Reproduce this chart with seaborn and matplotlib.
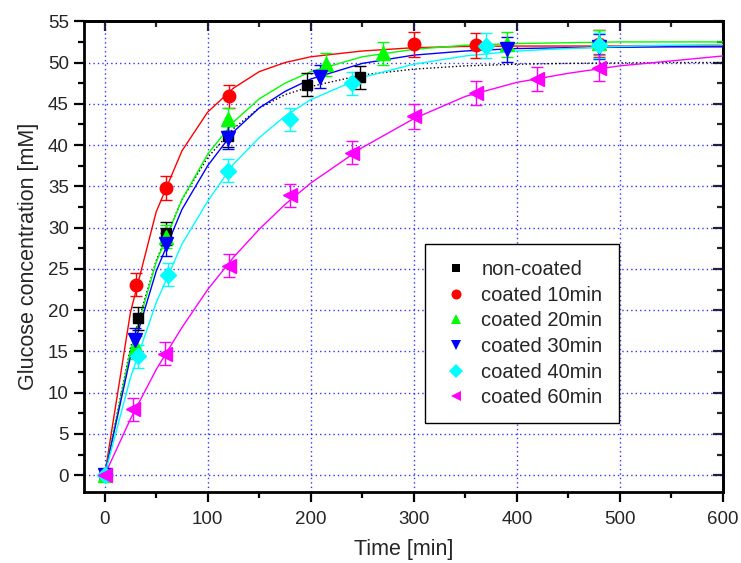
import matplotlib
matplotlib.use("Agg")
import matplotlib.pyplot as plt
from matplotlib.lines import Line2D
from matplotlib.ticker import MultipleLocator
import pandas as pd
import seaborn as sns

# ---- series definitions ----
labels = ["non-coated", "coated 10min", "coated 20min",
          "coated 30min", "coated 40min", "coated 60min"]
colors = ["#000000", "#ff0000", "#00ff00", "#0000ff", "#00ffff", "#ff00ff"]
markers = ["s", "o", "^", "v", "D", "<"]
marker_sizes = [7.5, 9, 9.5, 9.5, 8.5, 9.5]

# ---- measured glucose release (time [min], concentration [mM], error) ----
t_non = [0, 32, 60, 120, 196, 248]
c_non = [0, 19.0, 29.3, 41.1, 47.3, 48.2]
e_non = [0.3, 1.4, 1.4, 1.3, 1.4, 1.4]

t_10 = [0, 30, 60, 121, 300, 360, 480]
c_10 = [0, 23.1, 34.8, 45.9, 52.2, 52.1, 52.3]
e_10 = [0.3, 1.4, 1.4, 1.4, 1.5, 1.5, 1.6]

t_20 = [0, 30, 60, 120, 215, 270, 390, 480]
c_20 = [0, 15.5, 28.9, 43.1, 49.8, 51.1, 52.2, 52.4]
e_20 = [0.3, 1.4, 1.4, 1.4, 1.4, 1.4, 1.5, 1.5]

t_30 = [0, 29, 60, 120, 209, 390, 480]
c_30 = [0, 16.4, 28.0, 40.9, 48.3, 51.6, 51.9]
e_30 = [0.3, 1.4, 1.4, 1.4, 1.4, 1.5, 1.5]

t_40 = [0, 32, 61, 120, 180, 240, 370, 480]
c_40 = [0, 14.4, 24.3, 36.9, 43.1, 47.5, 52.05, 52.1]
e_40 = [0.3, 1.4, 1.4, 1.4, 1.4, 1.4, 1.5, 1.5]

t_60 = [0, 28, 59, 121, 180, 240, 300, 360, 420, 480]
c_60 = [0, 8.0, 14.7, 25.4, 33.9, 39.1, 43.5, 46.3, 48.0, 49.4]
e_60 = [0.3, 1.4, 1.4, 1.4, 1.4, 1.4, 1.5, 1.5, 1.5, 1.6]

# ---- fitted release curves ----
fit_t = [0, 25, 50, 75, 100, 125, 150, 175, 200, 250, 300, 350, 400,
         450, 500, 550, 600]
fit_non = [0, 15.4, 26.0, 33.4, 38.5, 42.0, 44.5, 46.1, 47.1, 48.5, 49.2,
           49.6, 49.8, 49.9, 49.95, 50.0, 50.0]
fit_10 = [0, 19.7, 31.9, 39.3, 44.0, 46.9, 48.9, 50.0, 50.7, 51.4, 51.8,
          51.95, 52.0, 52.0, 52.0, 52.0, 52.0]
fit_20 = [0, 15.0, 25.8, 33.4, 38.9, 42.8, 45.6, 47.5, 48.9, 50.7, 51.6,
          52.1, 52.3, 52.4, 52.5, 52.5, 52.5]
fit_30 = [0, 14.3, 24.7, 32.2, 37.5, 41.6, 44.5, 46.5, 48.0, 49.9, 50.9,
          51.4, 51.7, 51.8, 51.85, 51.9, 51.9]
fit_40 = [0, 11.8, 20.9, 28.0, 33.2, 37.7, 40.9, 43.5, 45.5, 48.2, 49.8,
          50.8, 51.4, 51.7, 51.95, 52.1, 52.2]
fit_60 = [0, 6.8, 12.8, 17.9, 22.5, 26.4, 29.8, 32.8, 35.4, 39.7, 43.2,
          45.9, 47.6, 48.7, 49.6, 50.2, 50.8]

points = [(t_non, c_non, e_non), (t_10, c_10, e_10), (t_20, c_20, e_20),
          (t_30, c_30, e_30), (t_40, c_40, e_40), (t_60, c_60, e_60)]
fits = [fit_non, fit_10, fit_20, fit_30, fit_40, fit_60]
fit_styles = [":", "-", "-", "-", "-", "-"]

sns.set_style("white")
plt.rcParams["font.family"] = ["Liberation Sans", "DejaVu Sans"]

fig = plt.figure(figsize=(7.41, 5.63), dpi=100)
ax = fig.add_axes([0.1134, 0.1266, 0.8623, 0.8356])

# fitted curves
for lab, col, fit, ls in zip(labels, colors, fits, fit_styles):
    df = pd.DataFrame({"t": fit_t, "c": fit})
    sns.lineplot(data=df, x="t", y="c", ax=ax, color=col, linestyle=ls,
                 linewidth=1.0, estimator=None, sort=False, legend=False,
                 zorder=3)

# measured points with error bars
for (t, c, e), col, mk, ms in zip(points, colors, markers, marker_sizes):
    ax.errorbar(t, c, yerr=e, fmt=mk, color=col, ecolor=col, mec=col,
                markersize=ms, elinewidth=1.0, capsize=4, capthick=1.0,
                zorder=4)

ax.set_xlim(-20, 600)
ax.set_ylim(-2, 55)
ax.xaxis.set_major_locator(MultipleLocator(100))
ax.xaxis.set_minor_locator(MultipleLocator(50))
ax.yaxis.set_major_locator(MultipleLocator(5))
ax.yaxis.set_minor_locator(MultipleLocator(2.5))

ax.grid(True, which="major", color="#0000ff", linestyle=(0, (1, 2.2)),
        linewidth=1.0, alpha=0.8)
ax.set_axisbelow(True)

for sp in ax.spines.values():
    sp.set_visible(True)
    sp.set_color("black")
    sp.set_linewidth(2.0)

ax.tick_params(axis="both", which="major", direction="out", length=7,
               width=1.6, color="black", labelsize=13.5, pad=4,
               bottom=True, left=True, top=False, right=False)
ax.tick_params(axis="x", which="major", pad=7)
ax.tick_params(axis="both", which="minor", direction="out", length=4,
               width=1.6, color="black", bottom=True, left=True,
               top=False, right=False)

# inward ticks on the top and right frame
top = ax.secondary_xaxis("top")
top.xaxis.set_major_locator(MultipleLocator(100))
top.xaxis.set_minor_locator(MultipleLocator(50))
top.tick_params(which="major", direction="in", length=7, width=1.6,
                labeltop=False)
top.tick_params(which="minor", direction="in", length=4, width=1.6)
top.spines["top"].set_linewidth(2.0)

right = ax.secondary_yaxis("right")
right.yaxis.set_major_locator(MultipleLocator(5))
right.yaxis.set_minor_locator(MultipleLocator(2.5))
right.tick_params(which="major", direction="in", length=7, width=1.6,
                  labelright=False)
right.tick_params(which="minor", direction="in", length=4, width=1.6)
right.spines["right"].set_linewidth(2.0)

ax.set_xlabel("Time [min]", fontsize=15.5, labelpad=8)
ax.set_ylabel("Glucose concentration [mM]", fontsize=15.5, labelpad=6)

handles = [Line2D([], [], linestyle="none", marker=mk, color=col,
                  markersize=ms * 0.8, markeredgewidth=0)
           for col, mk, ms in zip(colors, markers, marker_sizes)]
leg = ax.legend(handles, labels, loc="upper left",
                bbox_to_anchor=(425 / 741, 1 - 244 / 563),
                bbox_transform=fig.transFigure, borderaxespad=0,
                fontsize=14.5, frameon=True, fancybox=False,
                edgecolor="black", framealpha=1, borderpad=0.8,
                labelspacing=0.33, handletextpad=0.5, handlelength=1.5)
leg.get_frame().set_linewidth(1.0)

fig.savefig("out.png", dpi=100)
